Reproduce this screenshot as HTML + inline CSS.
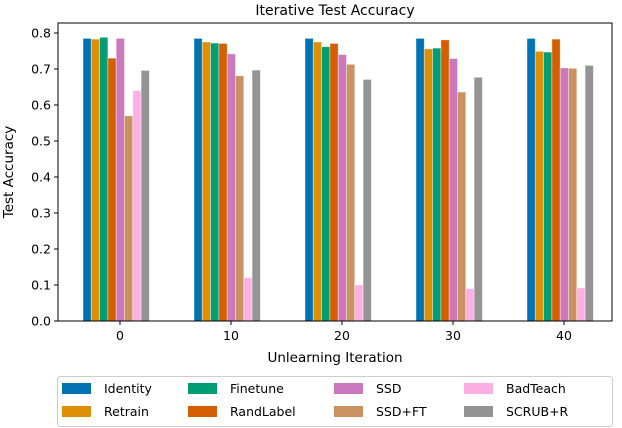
<!DOCTYPE html>
<html><head><meta charset="utf-8"><style>
body{margin:0;background:#fff;}
svg{display:block;font-family:"DejaVu Sans","Liberation Sans",sans-serif;}
</style></head><body>
<svg id="chart" width="622" height="428">
<text x="335" y="15" text-anchor="middle" font-size="14">Iterative Test Accuracy</text>
<g id="bars"></g>
<g id="axes"></g>
<rect x="58" y="23" width="554" height="298" fill="none" stroke="#000" stroke-width="1"/>
<text x="335" y="362" text-anchor="middle" font-size="13.5">Unlearning Iteration</text>
<text transform="translate(13,172) rotate(-90)" text-anchor="middle" font-size="13.5">Test Accuracy</text>
<g id="legend">
<rect x="57.5" y="376.5" width="555" height="50" rx="3" fill="#fff" stroke="#ccc"/>
</g>
</svg>
<script>
const categories=[0,10,20,30,40];
const seriesNames=["Identity","Retrain","Finetune","RandLabel","SSD","SSD+FT","BadTeach","SCRUB+R"];
const identity=[0.785,0.785,0.785,0.785,0.785];
const retrain=[0.783,0.775,0.775,0.756,0.749];
const finetune=[0.788,0.772,0.762,0.758,0.747];
const randLabel=[0.730,0.771,0.771,0.781,0.783];
const ssd=[0.785,0.742,0.740,0.729,0.703];
const ssdFt=[0.570,0.681,0.713,0.636,0.702];
const badTeach=[0.640,0.120,0.100,0.090,0.092];
const scrubR=[0.696,0.697,0.671,0.677,0.710];
const yTicks=[0,0.1,0.2,0.3,0.4,0.5,0.6,0.7,0.8];
const series=[identity,retrain,finetune,randLabel,ssd,ssdFt,badTeach,scrubR];
const colors=["#0173b2","#de8f05","#029e73","#d55e00","#cc78bc","#ca9161","#fbafe4","#949494"];
const NS="http://www.w3.org/2000/svg";
const y=v=>321-v*360;
const x=c=>120+c*11.1;
const bw=8.3;
const bars=document.getElementById('bars'),axes=document.getElementById('axes'),legend=document.getElementById('legend');
function mk(t,a,p){const e=document.createElementNS(NS,t);for(const k in a)e.setAttribute(k,a[k]);p.appendChild(e);return e;}
series.forEach((s,i)=>{s.forEach((v,j)=>{
 const r=mk('rect',{x:x(categories[j])-37+i*bw,y:y(v),width:bw,height:y(0)-y(v),fill:colors[i],stroke:'rgba(255,255,255,0.5)','stroke-width':0.8},bars);
 
 
});});
yTicks.forEach(t=>{
 const l=mk('line',{x1:54,x2:58,y1:y(t),y2:y(t),stroke:'#000'},axes);
 
 
 const tx=mk('text',{x:51,y:y(t)+4.5,'text-anchor':'end','font-size':12.5},axes);
 tx.textContent=t.toFixed(1);
 
 
});
categories.forEach(c=>{
 const l=mk('line',{x1:x(c),x2:x(c),y1:321,y2:325,stroke:'#000'},axes);
 
 
 const tx=mk('text',{x:x(c),y:340,'text-anchor':'middle','font-size':12.5},axes);
 tx.textContent=c;
 
 
});
const colX=[62,188,334,464];
seriesNames.forEach((n,i)=>{
 const cx=colX[Math.floor(i/2)],ry=i%2?406:383;
 const r=mk('rect',{x:cx,y:ry,width:29,height:11,fill:colors[i]},legend);
 
 
 const t=mk('text',{x:cx+42,y:ry+10,'font-size':12.5},legend);
 t.textContent=n;
 
 
});
</script>
</body></html>
